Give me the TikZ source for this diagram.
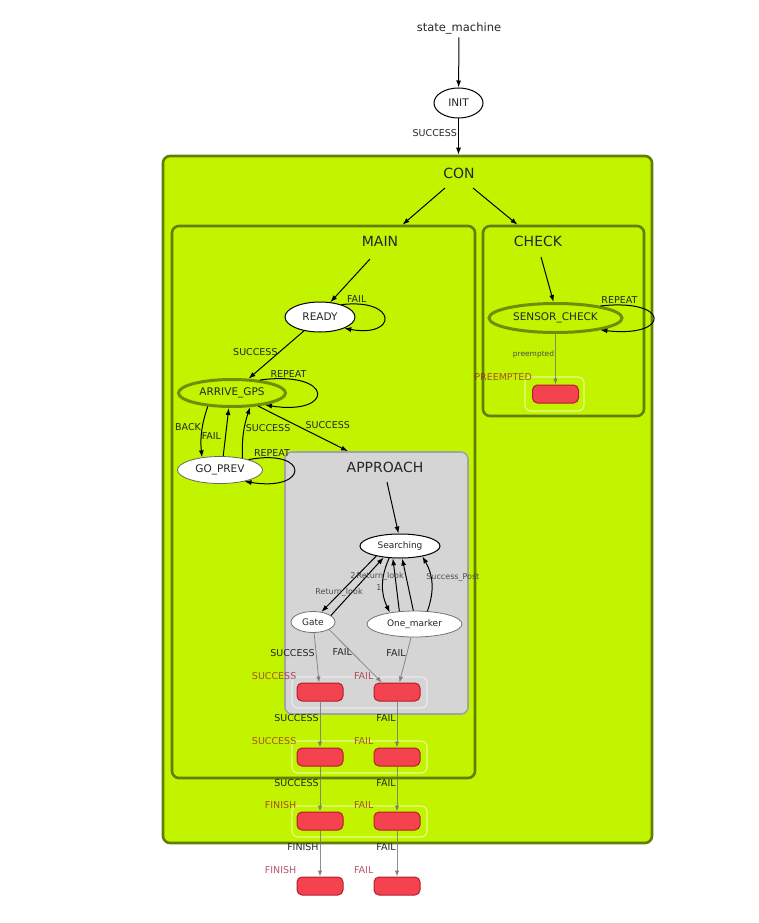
\documentclass[tikz,border=0pt]{standalone}
\usepackage{fontspec}
\setmainfont{DejaVu Sans}
\usetikzlibrary{shapes.geometric,arrows.meta}

\definecolor{conlime}{HTML}{C2F400}
\definecolor{clborder}{HTML}{5F7F05}
\definecolor{stborder}{HTML}{6E8F05}
\definecolor{apgray}{HTML}{D5D5D5}
\definecolor{apborder}{HTML}{A3A3A3}
\definecolor{outfill}{HTML}{F5424F}
\definecolor{outborder}{HTML}{B0202C}
\definecolor{outtext}{HTML}{9A0F2A}

\tikzset{
  cluster/.style={draw=clborder, line width=2.6pt, fill=conlime, rounded corners=7pt, inner sep=0pt},
  clusterlbl/.style={font=\fontsize{14}{16}\selectfont, text=black!85, inner sep=1pt},
  stnode/.style={ellipse, draw=black, line width=1pt, fill=white, inner sep=0pt, text=black!85, font=\fontsize{10.5}{12}\selectfont},
  cstnode/.style={stnode, draw=stborder, line width=3pt, fill=conlime},
  smallst/.style={stnode, font=\fontsize{9}{11}\selectfont},
  outbox/.style={draw=outborder, fill=outfill, line width=1pt, rounded corners=5pt, minimum width=46pt, minimum height=18pt, inner sep=0pt},
  outgrp/.style={draw=white, draw opacity=.55, line width=1.2pt, rounded corners=6pt, inner sep=0pt},
  outlbl/.style={text=outtext, text opacity=.7, font=\fontsize{9.5}{11}\selectfont, inner sep=0pt},
  elbl/.style={font=\fontsize{9.5}{11}\selectfont, text=black!85, opacity=1, text opacity=1, inner sep=1pt},
  slbl/.style={font=\fontsize{8}{10}\selectfont, text=black!70, opacity=1, text opacity=1, inner sep=1pt},
  arr/.style={-{Latex[length=7pt,width=5pt]}, line width=1pt},
  oarr/.style={-{Latex[length=6pt,width=4.5pt]}, draw=black!55, opacity=.8, line width=.8pt},
}

\begin{document}
\begin{tikzpicture}[x=1pt, y=-1pt]
  \useasboundingbox (0,0) rectangle (758,923);
  % clusters
  \node[cluster, minimum width=489pt, minimum height=687pt] (con) at (407.5,499.5) {};
  \node[cluster, minimum width=303pt, minimum height=552pt] (main) at (323.5,502) {};
  \node[cluster, minimum width=161pt, minimum height=190pt] (check) at (563.5,321) {};
  \node[cluster, draw=apborder, fill=apgray, line width=1.6pt, minimum width=183pt, minimum height=262pt] (approach) at (376.5,583) {};
  \node[clusterlbl] (conlbl) at (459,173) {CON};
  \node[clusterlbl] (mainlbl) at (380,241) {MAIN};
  \node[clusterlbl] (checklbl) at (538,241) {CHECK};
  \node[clusterlbl] (approachlbl) at (385,467) {APPROACH};
  \coordinate (conl) at (445,188);
  \coordinate (conr) at (473,188);
  \coordinate (mainin) at (370,259);
  \coordinate (checkin) at (541,257);
  \coordinate (approachin) at (387,482);

  % outcome groups
  \node[outgrp, minimum width=135pt, minimum height=31pt] (grp1) at (359.5,692.5) {};
  \node[outgrp, minimum width=135pt, minimum height=32pt] (grp2) at (359.5,757) {};
  \node[outgrp, minimum width=135pt, minimum height=31pt] (grp3) at (359.5,821.5) {};
  \node[outgrp, minimum width=59pt, minimum height=34pt] (grppre) at (554.5,394) {};

  % states
  \node[font=\fontsize{11.5}{13}\selectfont, text=black!85] (smlbl) at (459,28) {state\_machine};
  \node[stnode, minimum width=49pt, minimum height=30pt] (init) at (458.5,103) {INIT};
  \node[stnode, minimum width=70pt, minimum height=30pt] (ready) at (320,317) {READY};
  \node[cstnode, minimum width=107pt, minimum height=27pt] (arrive) at (232,393) {ARRIVE\_GPS};
  \node[stnode, draw=black!60, line width=.8pt, minimum width=85pt, minimum height=27pt] (goprev) at (220,470) {GO\_PREV};
  \node[cstnode, minimum width=133pt, minimum height=29pt] (sensor) at (555.5,318) {SENSOR\_CHECK};
  \node[smallst, minimum width=80pt, minimum height=24pt] (srch) at (400,546) {Searching};
  \node[smallst, draw=black!55, line width=.8pt, minimum width=44pt, minimum height=21pt] (gate) at (313,622) {Gate};
  \node[smallst, draw=black!55, line width=.8pt, minimum width=95pt, minimum height=26pt] (onem) at (414.5,624) {One\_marker};

  % outcomes
  \node[outbox] (pre) at (555.5,394) {};
  \node[outlbl, anchor=south east] (prelbl) at ([yshift=4pt]pre.north west) {PREEMPTED};
  \foreach \row/\y/\ls/\lf in {1/692/SUCCESS/FAIL,2/757/SUCCESS/FAIL,3/821/FINISH/FAIL,4/886/FINISH/FAIL} {
    \node[outbox] (o\row s) at (320,\y) {};
    \node[outbox] (o\row f) at (397,\y) {};
    \node[outlbl, anchor=south east] (o\row slbl) at ([yshift=3pt]o\row s.north west) {\ls};
    \node[outlbl, anchor=south east] (o\row flbl) at ([yshift=3pt]o\row f.north west) {\lf};
  }

  % transitions
  \draw[arr] (smlbl) -- (init);
  \draw[arr] (init) -- (init |- con.north) node[elbl, pos=.4, left] {SUCCESS};
  \draw[arr] (conl) -- ([xshift=79pt]main.north);
  \draw[arr] (conr) -- ([xshift=-46pt]check.north);
  \draw[arr] (mainin) -- (ready.55);
  \draw[arr] (ready.30) .. controls (398,298) and (398,338) .. (ready.-25) node[elbl, pos=.1, above] {FAIL};
  \draw[arr] (ready) -- (arrive) node[elbl, pos=.45, left] {SUCCESS};
  \draw[arr] (arrive.25) .. controls (335,370) and (335,416) .. (arrive.-20) node[elbl, pos=.15, above] {REPEAT};
  \draw[arr] (arrive) -- ([xshift=-28.5pt]approach.north) node[elbl, pos=.6, anchor=south west, xshift=-8pt, yshift=3pt] {SUCCESS};
  \draw[arr] (arrive.209) to[bend right=12] node[elbl, left, pos=.4] {BACK} (goprev.145);
  \draw[arr] (goprev.77) -- (arrive.258) node[elbl, left, pos=.41, xshift=-3pt] {FAIL};
  \draw[arr] (goprev.28) to[bend left=10] node[elbl, right, pos=.6] {SUCCESS} (arrive.-38);
  \draw[arr] (goprev.20) .. controls (310,448) and (310,492) .. (goprev.-25) node[elbl, pos=.15, above] {REPEAT};
  \draw[arr] (checkin) -- (sensor.97);
  \draw[arr] (sensor.15) .. controls (671,298) and (671,338) .. (sensor.-15) node[elbl, pos=.1, above] {REPEAT};
  \draw[oarr] (sensor) -- (pre) node[slbl, left, pos=.4, font=\fontsize{7.5}{9}\selectfont] {preempted};

  \draw[arr] (approachin) -- (srch.97);
  \draw[arr] (srch.203) -- (gate.50) node[slbl, left, pos=.35] {2};
  \draw[arr] (gate.20) -- (srch.215) node[slbl, pos=.4, xshift=-13pt] {Return\_look};
  \draw[arr] (srch.228) to[bend right=25] node[slbl, left, pos=.55] {1} (onem.155);
  \draw[arr] (onem.140) -- (srch.240) node[slbl, pos=.65, xshift=-15pt] {Return\_look};
  \draw[arr] (onem.95) -- (srch.-80);
  \draw[arr] (onem.45) to[bend right=25] node[slbl, right, pos=.6, xshift=-6pt] {Success\_Post} (srch.-25);

  \draw[oarr] (gate) -- (o1s) node[elbl, left, pos=.4] {SUCCESS};
  \draw[oarr] (gate.-25) -- (o1f.148) node[elbl, left, pos=.42, xshift=2pt] {FAIL};
  \draw[oarr] (onem) -- (o1f) node[elbl, left, pos=.35] {FAIL};
  \foreach \a/\b/\ls/\lf in {1/2/SUCCESS/FAIL,2/3/SUCCESS/FAIL,3/4/FINISH/FAIL} {
    \draw[oarr] (o\a s) -- (o\b s) node[elbl, left, pos=.37] {\ls};
    \draw[oarr] (o\a f) -- (o\b f) node[elbl, left, pos=.37] {\lf};
  }
\end{tikzpicture}
\end{document}
